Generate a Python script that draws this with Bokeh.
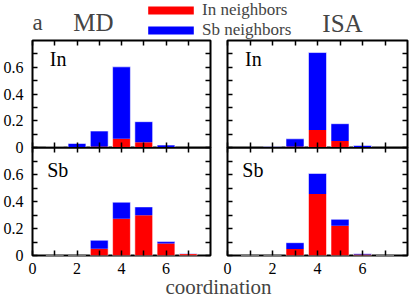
from bokeh.plotting import figure
from bokeh.models import (ColumnDataSource, Range1d, LinearAxis, FixedTicker,
                          Label, Legend, LegendItem)
from bokeh.layouts import column, row
from bokeh.embed import file_html
from bokeh.resources import INLINE

# ---------------- data ----------------
coordination = [1, 2, 3, 4, 5, 6, 7]

# In atoms (top row): fraction with given coordination, split by neighbor type
md_in_in_nb = [0.0, 0.0, 0.008, 0.065, 0.040, 0.0, 0.0]
md_in_sb_nb = [0.003, 0.030, 0.115, 0.538, 0.153, 0.018, 0.0]
isa_in_in_nb = [0.0, 0.001, 0.008, 0.130, 0.048, 0.003, 0.0]
isa_in_sb_nb = [0.0, 0.004, 0.057, 0.580, 0.130, 0.012, 0.0]

# Sb atoms (bottom row)
md_sb_in_nb = [0.0, 0.0, 0.050, 0.273, 0.298, 0.088, 0.012]
md_sb_sb_nb = [0.0, 0.0, 0.063, 0.122, 0.062, 0.015, 0.001]
isa_sb_in_nb = [0.0, 0.0, 0.048, 0.455, 0.220, 0.008, 0.0]
isa_sb_sb_nb = [0.0, 0.0, 0.047, 0.153, 0.048, 0.005, 0.0]

x_limits = (0, 8)
y_limits = (0, 0.8)
x_ticks = [0, 2, 4, 6]
x_tick_labels = ["0", "2", "4", "6"]
x_minor_ticks = [1, 3, 5, 7]
y_ticks = [0, 0.2, 0.4, 0.6]
y_tick_labels = ["0", "0.2", "0.4", "0.6"]
y_minor_ticks = [0.1, 0.3, 0.5, 0.7]

series_names = ["In neighbors", "Sb neighbors"]
series_colors = ["#ff0000", "#0000ff"]
column_titles = ["MD", "ISA"]
row_names = ["In", "Sb"]
panel_tag = "a"
x_title = "coordination"

FONT = "Liberation Serif"


def tick_axis(ticks, minor, labels, show, size="16px", standoff=5):
    ax = LinearAxis(ticker=FixedTicker(ticks=ticks, minor_ticks=minor))
    ax.axis_line_color = None
    ax.major_tick_in = 5
    ax.major_tick_out = 0
    ax.minor_tick_in = 5
    ax.minor_tick_out = 0
    ax.major_tick_line_width = 1.5
    ax.minor_tick_line_width = 1.5
    ax.major_tick_line_color = "black"
    ax.minor_tick_line_color = "black"
    if show:
        ax.major_label_overrides = {t: l for t, l in zip(ticks, labels)}
        ax.major_label_text_font = FONT
        ax.major_label_text_font_size = size
        ax.major_label_text_color = "black"
        ax.major_label_standoff = standoff
    else:
        ax.major_label_text_font_size = "0px"
        ax.major_label_text_color = None
        ax.major_label_standoff = 0
    return ax


def panel(in_nb, sb_nb, name, name_x, name_y, left_labels, bottom_labels,
          width, mbl, mbr, height, mbt, mbb):
    p = figure(width=width, height=height,
               x_range=Range1d(*x_limits), y_range=Range1d(*y_limits),
               x_axis_type=None, y_axis_type=None,
               toolbar_location=None, output_backend="svg",
               min_border_left=mbl, min_border_right=mbr,
               min_border_top=mbt, min_border_bottom=mbb)
    p.background_fill_color = None
    p.border_fill_color = None
    p.outline_line_color = "black"
    p.outline_line_width = 2
    total = [a + b for a, b in zip(in_nb, sb_nb)]
    src = ColumnDataSource(dict(coord=coordination, in_nb=in_nb, sb_nb=sb_nb,
                                total=total))
    p.vbar_stack(["in_nb", "sb_nb"], x="coord", width=0.8,
                 fill_color=series_colors, line_color=None, source=src)
    # light rim around each whole stacked bar
    p.vbar(x="coord", top="total", width=0.8, fill_color=None,
           line_color="white", line_alpha=0.55, line_width=1, source=src)
    p.add_layout(tick_axis(y_ticks, y_minor_ticks, y_tick_labels, left_labels,
                           standoff=9), "left")
    p.add_layout(tick_axis(y_ticks, y_minor_ticks, y_tick_labels, False), "right")
    p.add_layout(tick_axis(x_ticks, x_minor_ticks, x_tick_labels, bottom_labels,
                           standoff=7), "below")
    p.add_layout(tick_axis(x_ticks, x_minor_ticks, x_tick_labels, False), "above")
    p.add_layout(Label(x=name_x, y=name_y, text=name, text_font=FONT,
                       text_font_size="20px", text_baseline="alphabetic",
                       text_color="black"))
    return p


LW, RW = 218, 191          # figure widths
LB, LR = 30, 8             # left panels borders
RB, RR = 9, 2              # right panels borders

tl = panel(md_in_in_nb, md_in_sb_nb, row_names[0], 0.78, 0.66, True, False,
           LW, LB, LR, 116, 1, 8)
tr = panel(isa_in_in_nb, isa_in_sb_nb, row_names[0], 0.78, 0.66, False, False,
           RW, RB, RR, 116, 1, 8)
bl = panel(md_sb_in_nb, md_sb_sb_nb, row_names[1], 0.66, 0.63, True, True,
           LW, LB, LR, 133, 0, 25)
br = panel(isa_sb_in_nb, isa_sb_sb_nb, row_names[1], 0.66, 0.63, False, True,
           RW, RB, RR, 133, 0, 25)

# ---------------- header (legend + titles) ----------------
header = figure(width=409, height=48, x_range=Range1d(0, 409), y_range=Range1d(0, 48),
                x_axis_type=None, y_axis_type=None, toolbar_location=None,
                output_backend="svg", min_border=0)
header.outline_line_color = None
header.background_fill_color = None
header.border_fill_color = None
# zero-size proxies that carry the legend swatch styles
r_in = header.vbar(x=[0], bottom=[0], top=[0], width=0, fill_color=series_colors[0],
                   line_color=None)
r_sb = header.vbar(x=[0], bottom=[0], top=[0], width=0, fill_color=series_colors[1],
                   line_color=None)
legend = Legend(items=[LegendItem(label=series_names[0], renderers=[r_in]),
                       LegendItem(label=series_names[1], renderers=[r_sb])],
                location=(142, 8), orientation="vertical",
                glyph_width=57, glyph_height=10, label_standoff=3,
                label_text_font=FONT, label_text_font_size="17px",
                label_height=16, spacing=0, padding=0, margin=0,
                border_line_color=None, background_fill_alpha=0)
header.add_layout(legend)
header.add_layout(Label(x=32, y=26, text=panel_tag, text_font=FONT,
                        text_font_size="23px", text_baseline="alphabetic"))
header.add_layout(Label(x=93, y=26, text=column_titles[0], text_font=FONT,
                        text_font_size="25px", text_align="center",
                        text_baseline="alphabetic"))
header.add_layout(Label(x=342, y=25, text=column_titles[1], text_font=FONT,
                        text_font_size="25px", text_align="center",
                        text_baseline="alphabetic"))

# ---------------- footer (x title) ----------------
footer = figure(width=409, height=28, x_range=Range1d(0, 409), y_range=Range1d(0, 28),
                x_axis_type=None, y_axis_type=None, toolbar_location=None,
                output_backend="svg", min_border=0)
footer.outline_line_color = None
footer.background_fill_color = None
footer.border_fill_color = None
footer.add_layout(Label(x=218, y=12, text=x_title, text_font=FONT,
                        text_font_size="21px", text_align="center",
                        text_baseline="alphabetic"))

layout = column(header,
                row(tl, tr, margin=(-9, 0, 0, 0)),
                row(bl, br, margin=(-8, 0, 0, 0)),
                row(footer, margin=(-10, 0, 0, 0)))

open("out.html", "w").write(file_html(layout, INLINE))
